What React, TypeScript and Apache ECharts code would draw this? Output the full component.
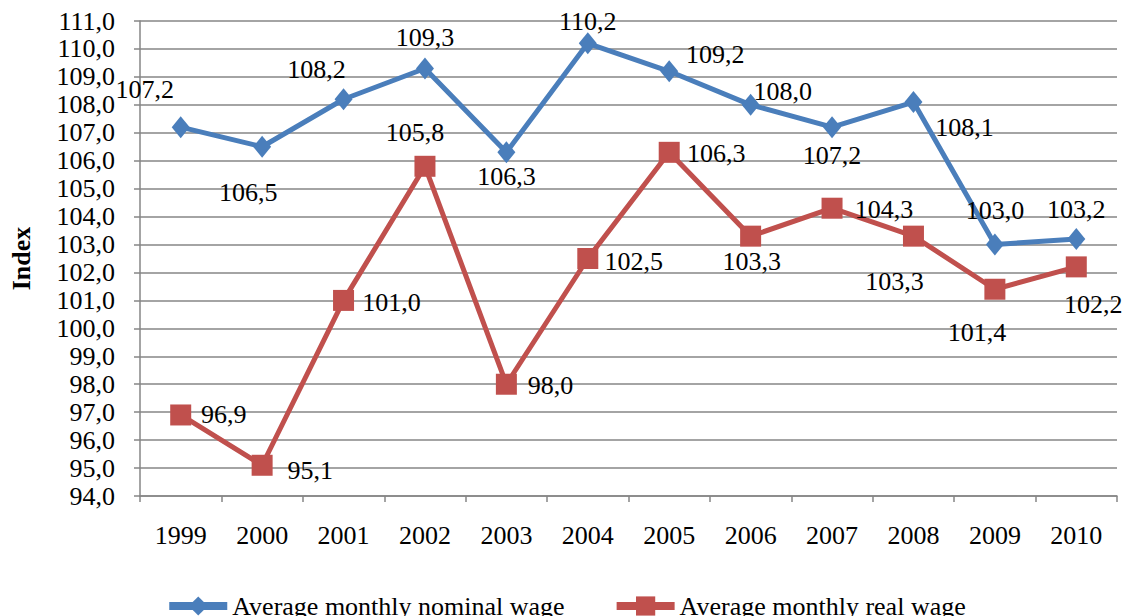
import React, { useEffect, useRef } from "react";
import * as echarts from "echarts";

const years = ["1999", "2000", "2001", "2002", "2003", "2004", "2005", "2006", "2007", "2008", "2009", "2010"];
const nominalWage = [107.2, 106.5, 108.2, 109.3, 106.3, 110.2, 109.2, 108.0, 107.2, 108.1, 103.0, 103.2];
const realWage = [96.9, 95.1, 101.0, 105.8, 98.0, 102.5, 106.3, 103.3, 104.3, 103.3, 101.4, 102.2];
const nominalLabelOffsets: number[][] = [
  [-36, -38], [-14, 46], [-27, -30], [0, -31], [0, 24], [0, -22],
  [46, -17], [32, -13], [0, 28], [51, 25], [0, -34], [0, -29],
];
const realLabelOffsets: number[][] = [
  [43, 0], [48, 5], [48, 2], [-10, -34], [44, 1], [46, 3],
  [47, 1], [1, 25], [52, 1], [-19, 45], [-18, 43], [17, 38],
];

const FONT = "Liberation Serif";
const fmt = (v: number) => v.toFixed(1).replace(".", ",");

export default function App() {
  const ref = useRef<HTMLDivElement>(null);
  useEffect(() => {
    if (!ref.current) return;
    const chart = echarts.init(ref.current, null, { renderer: "svg" });
    const labelBase = {
      show: true,
      position: "inside",
      align: "center",
      verticalAlign: "middle",
      fontFamily: FONT,
      fontSize: 26,
      color: "#000",
      formatter: (p: any) => fmt(p.value),
    };
    chart.setOption({
      animation: false,
      backgroundColor: "#fff",
      textStyle: { fontFamily: FONT },
      grid: { left: 138, right: 14, top: 21, bottom: 120 },
      legend: {
        top: 588,
        left: "center",
        itemWidth: 58,
        itemHeight: 24,
        itemGap: 48,
        lineStyle: { width: 8 },
        textStyle: { fontFamily: FONT, fontSize: 26, color: "#000" },
        data: ["Average monthly nominal wage", "Average monthly real wage"],
      },
      xAxis: {
        type: "category",
        data: years,
        boundaryGap: true,
        axisLine: { lineStyle: { color: "#868686", width: 1.5 } },
        axisTick: { show: true, length: 6, lineStyle: { color: "#868686", width: 1.5 } },
        axisLabel: { fontFamily: FONT, fontSize: 26, color: "#000", margin: 26 },
      },
      yAxis: {
        type: "value",
        min: 94,
        max: 111,
        interval: 1,
        name: "Index",
        nameLocation: "middle",
        nameGap: 106,
        nameTextStyle: { fontFamily: FONT, fontSize: 26, fontWeight: "bold", color: "#000" },
        axisLine: { show: true, lineStyle: { color: "#868686", width: 1.5 } },
        axisTick: { show: true, length: 6, lineStyle: { color: "#868686", width: 1.5 } },
        splitLine: { show: true, lineStyle: { color: "#868686", width: 1.5 } },
        axisLabel: {
          fontFamily: FONT,
          fontSize: 26,
          color: "#000",
          margin: 25,
          formatter: (v: number) => fmt(v),
        },
      },
      series: [
        {
          name: "Average monthly nominal wage",
          type: "line",
          symbol: "diamond",
          symbolSize: [18, 22],
          itemStyle: { color: "#4A7EBB" },
          lineStyle: { color: "#4A7EBB", width: 5 },
          data: nominalWage.map((v, i) => ({
            value: v,
            label: { ...labelBase, offset: nominalLabelOffsets[i] },
          })),
          label: labelBase,
          z: 3,
        },
        {
          name: "Average monthly real wage",
          type: "line",
          symbol: "rect",
          symbolSize: 21,
          itemStyle: { color: "#C0504D" },
          lineStyle: { color: "#C0504D", width: 5 },
          data: realWage.map((v, i) => ({
            value: v,
            label: { ...labelBase, offset: realLabelOffsets[i] },
          })),
          label: labelBase,
          z: 2,
        },
      ],
    });
    return () => chart.dispose();
  }, []);
  return <div ref={ref} style={{ width: 1131, height: 616, position: "absolute", left: 0, top: 0 }} />;
}
